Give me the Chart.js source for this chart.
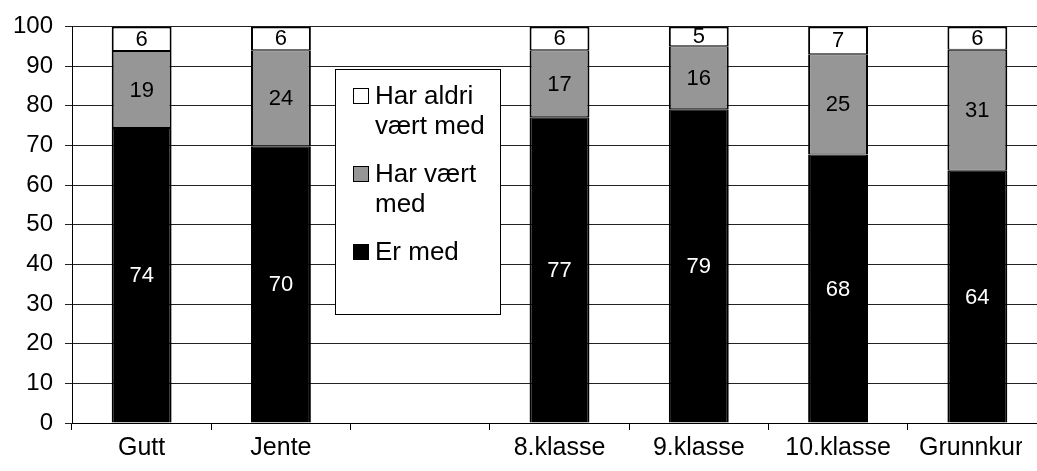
<!DOCTYPE html>
<html>
<head>
<meta charset="utf-8">
<script src="https://cdn.jsdelivr.net/npm/chart.js@4/dist/chart.umd.min.js"></script>
<style>
  html, body { margin: 0; padding: 0; background: #fff; overflow: hidden; }
  #wrap { width: 1070px; height: 471px; position: relative; }
</style>
</head>
<body>
<div id="wrap"><canvas id="elevChart"></canvas></div>
<script>
var categories = ['Gutt', 'Jente', '', '8.klasse', '9.klasse', '10.klasse', 'Grunnkurs'];
var erMed = [74.4, 69.8, null, 77.1, 79.1, 67.7, 63.6];
var harVaertMed = [19.4, 24.2, null, 16.9, 15.9, 25.3, 30.5];
var harAldriVaertMed = [6.2, 6.0, null, 6.0, 5.0, 7.0, 5.9];
var seriesNames = [['Er med'], ['Har vært', 'med'], ['Har aldri', 'vært med']];
var yTicks = [0, 10, 20, 30, 40, 50, 60, 70, 80, 90, 100];

var FONT = "'Liberation Sans', Arial, sans-serif";

// values written in the middle of each bar segment
var valueLabels = {
    id: 'valueLabels',
    afterDatasetsDraw: function (chart) {
        var ctx = chart.ctx;
        ctx.save();
        ctx.font = '22px ' + FONT;
        ctx.textAlign = 'center';
        ctx.textBaseline = 'middle';
        chart.data.datasets.forEach(function (ds, i) {
            var meta = chart.getDatasetMeta(i);
            meta.data.forEach(function (bar, j) {
                var v = ds.data[j];
                if (v === null || v === undefined) return;
                ctx.fillStyle = ds.labelColor;
                ctx.fillText(String(Math.round(v)), bar.x, (bar.y + bar.base) / 2 + 1);
            });
        });
        ctx.restore();
    }
};

// boxed legend sitting inside the plot area
var boxLegend = {
    id: 'boxLegend',
    afterDatasetsDraw: function (chart) {
        var ctx = chart.ctx;
        var yScale = chart.scales.y;
        var left = 335, right = 500;
        var top = Math.round(yScale.getPixelForValue(89.2)), bottom = Math.round(yScale.getPixelForValue(27.6));
        ctx.save();
        ctx.fillStyle = '#fff';
        ctx.fillRect(left, top, right - left, bottom - top);
        ctx.strokeStyle = '#000';
        ctx.lineWidth = 1;
        ctx.strokeRect(left + 0.5, top + 0.5, right - left, bottom - top);
        ctx.font = '26px ' + FONT;
        ctx.textBaseline = 'middle';
        ctx.textAlign = 'left';
        var y = top + 27;
        var ds = chart.data.datasets.slice().reverse();
        ds.forEach(function (d) {
            ctx.fillStyle = d.backgroundColor;
            ctx.fillRect(353.5, y - 7.5, 15, 15);
            ctx.strokeStyle = '#000';
            ctx.strokeRect(353.5, y - 7.5, 15, 15);
            ctx.fillStyle = '#000';
            var lines = d.legendLines;
            lines.forEach(function (ln, k) {
                ctx.fillText(ln, 375, y + k * 30 + 1);
            });
            y += lines.length * 30 + 18;
        });
        ctx.restore();
    }
};

// the reference cuts the last category label at its right edge
var labelClip = {
    id: 'labelClip',
    afterDraw: function (chart) {
        var ctx = chart.ctx;
        var area = chart.chartArea;
        ctx.save();
        ctx.fillStyle = '#fff';
        ctx.fillRect(1022, area.bottom + 9, chart.width - 1022, chart.height - area.bottom - 9);
        ctx.restore();
    }
};

var ctxEl = document.getElementById('elevChart');
var elevChart = new Chart(ctxEl, {
    type: 'bar',
    data: {
        labels: categories,
        datasets: [{
                label: 'Er med',
                legendLines: seriesNames[0],
                data: erMed,
                backgroundColor: '#000000',
                borderColor: '#000000',
                labelColor: '#ffffff',
                borderWidth: { left: 2, right: 2, top: 1, bottom: 0 },
                borderSkipped: false
            }, {
                label: 'Har vært med',
                legendLines: seriesNames[1],
                data: harVaertMed,
                backgroundColor: '#969696',
                borderColor: '#000000',
                labelColor: '#000000',
                borderWidth: { left: 2, right: 2, top: 1, bottom: 1 },
                borderSkipped: false
            }, {
                label: 'Har aldri vært med',
                legendLines: seriesNames[2],
                data: harAldriVaertMed,
                backgroundColor: '#ffffff',
                borderColor: '#000000',
                labelColor: '#000000',
                borderWidth: { left: 2, right: 2, top: 2, bottom: 1 },
                borderSkipped: false
            }]
    },
    options: {
        responsive: true,
        maintainAspectRatio: false,
        animation: false,
        layout: { padding: { top: 24, right: 23, bottom: 0, left: 0 } },
        datasets: {
            bar: { categoryPercentage: 1, barPercentage: 0.43 }
        },
        plugins: {
            legend: { display: false },
            tooltip: { enabled: false }
        },
        scales: {
            x: {
                stacked: true,
                afterFit: function (scale) { scale.height = 48; },
                grid: {
                    offset: true,
                    drawOnChartArea: false,
                    drawTicks: true,
                    tickLength: 7,
                    color: '#000'
                },
                border: { color: '#000', width: 1 },
                ticks: {
                    color: '#000',
                    padding: 3,
                    maxRotation: 0,
                    autoSkip: false,
                    font: { family: FONT, size: 25 }
                }
            },
            y: {
                stacked: true,
                min: 0,
                max: 100,
                afterFit: function (scale) { scale.width = 72; },
                afterBuildTicks: function (scale) {
                    scale.ticks = yTicks.map(function (v) { return { value: v }; });
                },
                grid: {
                    color: '#222',
                    lineWidth: 1,
                    drawTicks: true,
                    tickLength: 7
                },
                border: { color: '#000', width: 1 },
                ticks: {
                    color: '#000',
                    padding: 12,
                    font: { family: FONT, size: 24 }
                }
            }
        }
    },
    plugins: [valueLabels, boxLegend, labelClip]
});
</script>
</body>
</html>
